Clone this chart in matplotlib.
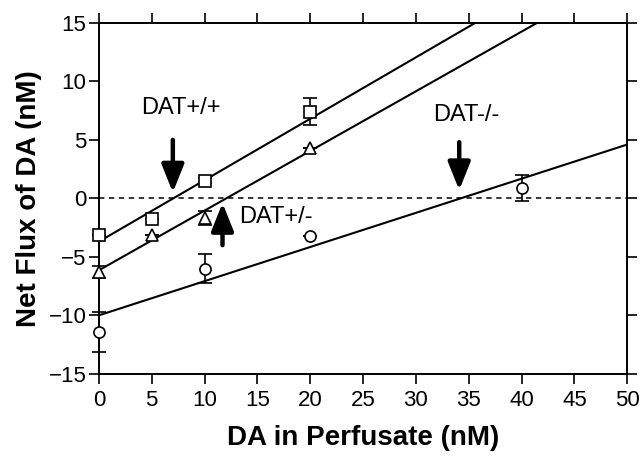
import matplotlib
matplotlib.use("Agg")
import matplotlib.pyplot as plt
import numpy as np

plt.rcParams['font.family'] = ['Liberation Sans', 'DejaVu Sans']

# DAT+/+ (squares)
wt_x = [0, 5, 10, 20]
wt_y = [-3.1, -1.8, 1.5, 7.4]
wt_err = [0.0, 0.0, 0.2, 1.15]
# DAT+/- (triangles)
het_x = [0, 5, 10, 20]
het_y = [-6.3, -3.1, -1.7, 4.3]
het_err = [0.5, 0.0, 0.6, 0.0]
# DAT-/- (circles)
ko_x = [0, 10, 20, 40]
ko_y = [-11.4, -6.0, -3.2, 0.9]
ko_err = [1.7, 1.25, 0.0, 1.1]

# linear fits: intercept, slope
wt_fit = (-3.7, 0.525)
het_fit = (-6.15, 0.51)
ko_fit = (-10.0, 0.292)

xticks = [0, 5, 10, 15, 20, 25, 30, 35, 40, 45, 50]
yticks = [-15, -10, -5, 0, 5, 10, 15]

fig = plt.figure(figsize=(6.42, 4.57), dpi=100)
ax = fig.add_axes([0.154, 0.182, 0.823, 0.768])

xl = np.array([0, 50])
for (b, m) in [wt_fit, het_fit, ko_fit]:
    ax.plot(xl, b + m * xl, color='black', lw=1.5, zorder=2)

ax.axhline(0, color='black', lw=1.1, ls=(0, (3.5, 3)), zorder=1)

common = dict(ls='none', mfc='white', mec='black', ecolor='black',
              elinewidth=1.2, capsize=5, capthick=1.2, mew=1.2, zorder=3,
              clip_on=False)
ax.errorbar(wt_x, wt_y, yerr=wt_err, marker='s', ms=8.5, **common)
ax.errorbar(het_x, het_y, yerr=het_err, marker='^', ms=8.5, **common)
ax.errorbar(ko_x, ko_y, yerr=ko_err, marker='o', ms=8, **common)

arrow_kw = dict(arrowstyle='-|>,head_width=0.34,head_length=0.85', color='black',
                lw=3.2, mutation_scale=20, shrinkA=0, shrinkB=0)
ax.annotate('', xy=(7.0, 0.5), xytext=(7.0, 5.0), arrowprops=arrow_kw)
ax.annotate('', xy=(11.7, -0.4), xytext=(11.7, -4.0), arrowprops=arrow_kw)
ax.annotate('', xy=(34.1, 0.7), xytext=(34.1, 4.8), arrowprops=arrow_kw)

ax.text(7.8, 7.7, 'DAT+/+', fontsize=17, ha='center', va='center')
ax.text(13.3, -1.6, 'DAT+/-', fontsize=17, ha='left', va='center')
ax.text(34.8, 7.1, 'DAT-/-', fontsize=17, ha='center', va='center')

ax.set_xlim(0, 50)
ax.set_ylim(-15, 15)
ax.set_xticks(xticks)
ax.set_yticks(yticks)
ax.tick_params(axis='both', direction='out', length=7, width=1.2, labelsize=16,
               top=True, right=True)
ax.tick_params(axis='x', pad=5)
ax.tick_params(axis='y', pad=2)
for s in ax.spines.values():
    s.set_linewidth(1.4)
ax.set_xlabel('DA in Perfusate (nM)', fontsize=20, fontweight='bold', labelpad=10)
ax.set_ylabel('Net Flux of DA (nM)', fontsize=20, fontweight='bold', labelpad=5)

fig.savefig('out.png', dpi=100)
